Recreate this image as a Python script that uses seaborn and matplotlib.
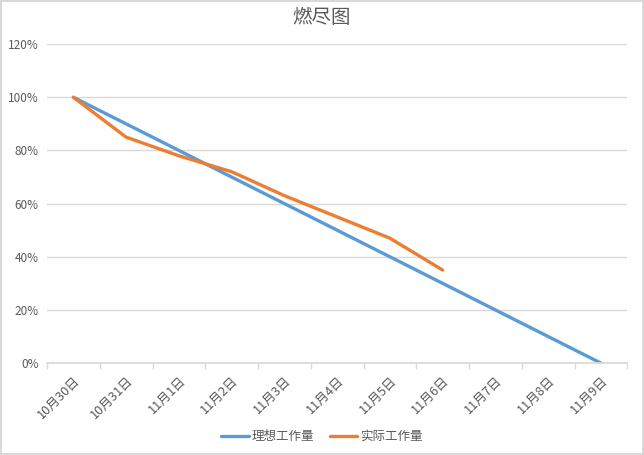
import pandas as pd
import matplotlib
matplotlib.use("Agg")
import matplotlib.pyplot as plt
import matplotlib.transforms as mtransforms
from matplotlib.ticker import PercentFormatter
import seaborn as sns

# data
dates = ["10月30日", "10月31日", "11月1日", "11月2日", "11月3日", "11月4日",
         "11月5日", "11月6日", "11月7日", "11月8日", "11月9日"]
ideal = [100, 90, 80, 70, 60, 50, 40, 30, 20, 10, 0]
actual = [100, 85, 78, 72, 63, 55, 47, 35]
series_names = ["理想工作量", "实际工作量"]

sns.set_theme(style="white")
plt.rcParams['font.family'] = ['Noto Sans CJK SC', 'DejaVu Sans']

df = pd.concat([
    pd.DataFrame({"x": range(len(ideal)), "value": ideal, "series": series_names[0]}),
    pd.DataFrame({"x": range(len(actual)), "value": actual, "series": series_names[1]}),
])

fig = plt.figure(figsize=(6.44, 4.55), dpi=100)
fig.patch.set_edgecolor("#d9d9d9")
fig.patch.set_linewidth(1.5)
ax = fig.add_axes([0.073, 0.202, 0.901, 0.701])

sns.lineplot(data=df, x="x", y="value", hue="series", ax=ax,
             palette=["#5B9BD5", "#ED7D31"], linewidth=2.4, legend=True)

ax.set_xlim(-0.5, len(dates) - 0.5)
ax.set_ylim(0, 120)
ax.set_yticks(range(0, 121, 20))
ax.yaxis.set_major_formatter(PercentFormatter(decimals=0))
ax.set_xticks(range(len(dates)))
ax.set_xticklabels(dates, rotation=45, ha="right", rotation_mode="anchor")
# nudge the rotated labels a little to the right
offset = mtransforms.ScaledTranslation(6 / 72, 0, fig.dpi_scale_trans)
for lab in ax.get_xticklabels():
    lab.set_transform(lab.get_transform() + offset)
ax.set_xticks([i - 0.5 for i in range(len(dates) + 1)], minor=True)
ax.tick_params(axis="x", which="major", length=0, pad=8, labelsize=9.2, labelcolor="#595959")
ax.tick_params(axis="x", which="minor", length=4, color="#d9d9d9", width=1, direction="out", bottom=True)
ax.tick_params(axis="y", length=0, labelsize=8.5, labelcolor="#595959", pad=6)
ax.grid(axis="y", color="#d9d9d9", linewidth=1)
ax.set_axisbelow(True)
for s in ["top", "right", "left"]:
    ax.spines[s].set_visible(False)
ax.spines["bottom"].set_color("#d9d9d9")
ax.set_xlabel("")
ax.set_ylabel("")

fig.suptitle("燃尽图", y=0.985, fontsize=14, color="#595959")

handles, labels = ax.get_legend_handles_labels()
ax.legend(handles, labels, loc="center", bbox_to_anchor=(0.5, 0.04),
          bbox_transform=fig.transFigure, ncol=2, frameon=False,
          fontsize=9, labelcolor="#595959", handlelength=2.2,
          columnspacing=1.2, handletextpad=0.25)

fig.savefig("out.png", dpi=100)
